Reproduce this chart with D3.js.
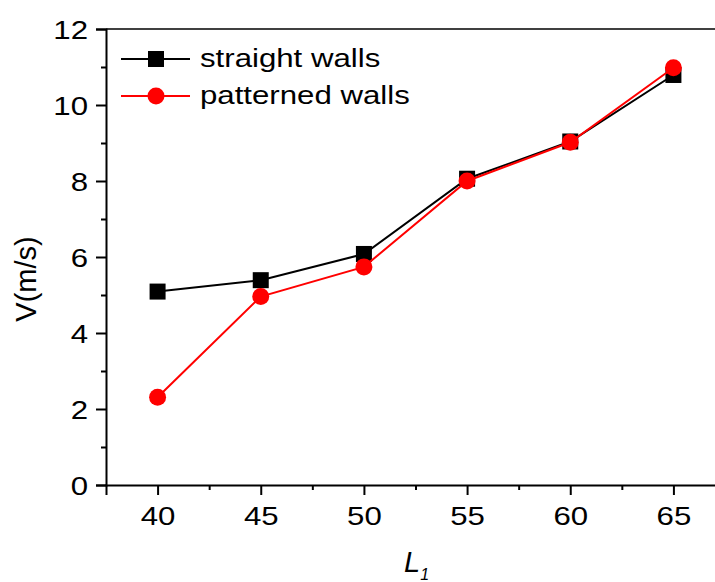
<!DOCTYPE html>
<html>
<head>
<meta charset="utf-8">
<script src="https://cdn.jsdelivr.net/npm/d3@7"></script>
<style>
  html, body { margin: 0; padding: 0; background: #fff; }
  svg { display: block; font-family: "Liberation Sans", Arial, sans-serif; }
</style>
</head>
<body>
<svg id="chart" width="715" height="582"></svg>
<script>
// L1 positions along the horizontal axis
const lengths = [40, 45, 50, 55, 60, 65];
// Velocity (m/s) for each wall type
const straightWalls = [5.09, 5.39, 6.08, 8.06, 9.04, 10.79];
const patternedWalls = [2.31, 4.96, 5.74, 8.0, 9.02, 10.98];
// Axis ticks
const xMajor = [40, 45, 50, 55, 60, 65];
const xMinor = [42.5, 47.5, 52.5, 57.5, 62.5];
const yMajor = [0, 2, 4, 6, 8, 10, 12];
const yMinor = [1, 3, 5, 7, 9, 11];
const seriesNames = ["straight walls", "patterned walls"];

const svg = d3.select("#chart");
const x = d3.scaleLinear().domain([37.5, 67.5]).range([106, 725]);
const y = d3.scaleLinear().domain([0, 12]).range([485, 29]);

const axisStroke = 2;
const labelSize = 26;
const stretch = 1.2; // the label face runs a little wider than Liberation Sans

// frame line along the top
svg.append("line")
  .attr("x1", x(37.5)).attr("x2", x(67.5))
  .attr("y1", y(12)).attr("y2", y(12))
  .attr("stroke", "#000").attr("stroke-width", 1.6);

// bottom axis: major + minor ticks
const gx = svg.append("g").attr("transform", `translate(0,${y(0)})`);
gx.call(d3.axisBottom(x).tickValues(xMajor).tickSize(10).tickFormat(d3.format("d")));
gx.append("g").call(d3.axisBottom(x).tickValues(xMinor).tickSize(5).tickFormat(""))
  .select(".domain").remove();
gx.selectAll(".tick text")
  .attr("x", 0).attr("y", 0).attr("dy", 0)
  .attr("transform", `translate(0,40) scale(${stretch},1)`);

// left axis: major + minor ticks
const gy = svg.append("g").attr("transform", `translate(${x(37.5)},0)`);
gy.call(d3.axisLeft(y).tickValues(yMajor).tickSize(10).tickFormat(d3.format("d")));
gy.append("g").call(d3.axisLeft(y).tickValues(yMinor).tickSize(5).tickFormat(""))
  .select(".domain").remove();
gy.selectAll(".tick text")
  .attr("x", 0).attr("dy", "0.35em")
  .attr("transform", `translate(-18,0) scale(${stretch},1)`);

svg.selectAll(".domain").attr("stroke", "#000").attr("stroke-width", axisStroke);
svg.selectAll(".tick line").attr("stroke", "#000").attr("stroke-width", axisStroke);
svg.selectAll(".tick text").attr("fill", "#000").attr("font-size", labelSize)
  .attr("font-family", "Liberation Sans, Arial, sans-serif");

// axis titles
svg.append("text")
  .attr("transform", "translate(36,279) rotate(-90)")
  .attr("text-anchor", "middle")
  .attr("font-size", 29).attr("fill", "#000")
  .text("V(m/s)");

const xt = svg.append("text")
  .attr("x", 404).attr("y", 572)
  .attr("font-size", 29).attr("font-style", "italic").attr("fill", "#000");
xt.append("tspan").text("L");
xt.append("tspan").attr("font-size", 16).attr("dy", 8).text("1");

const line = d3.line().x((d, i) => x(lengths[i])).y(d => y(d));

// straight walls: black line with squares
svg.append("path").datum(straightWalls)
  .attr("d", line).attr("fill", "none").attr("stroke", "#000").attr("stroke-width", 2);
svg.append("g").selectAll("rect").data(straightWalls).join("rect")
  .attr("x", (d, i) => x(lengths[i]) - 8).attr("y", d => y(d) - 8)
  .attr("width", 16).attr("height", 16).attr("fill", "#000");

// patterned walls: red line with circles
svg.append("path").datum(patternedWalls)
  .attr("d", line).attr("fill", "none").attr("stroke", "#ff0000").attr("stroke-width", 2);
svg.append("g").selectAll("circle").data(patternedWalls).join("circle")
  .attr("cx", (d, i) => x(lengths[i])).attr("cy", d => y(d))
  .attr("r", 8.5).attr("fill", "#ff0000");

// legend
const legend = svg.append("g");
const rows = [
  { name: seriesNames[0], color: "#000", shape: "square", yPos: 59 },
  { name: seriesNames[1], color: "#ff0000", shape: "circle", yPos: 96 }
];
rows.forEach(r => {
  legend.append("line")
    .attr("x1", 121).attr("x2", 190).attr("y1", r.yPos).attr("y2", r.yPos)
    .attr("stroke", r.color).attr("stroke-width", 2);
  if (r.shape === "square") {
    legend.append("rect").attr("x", 148).attr("y", r.yPos - 8)
      .attr("width", 16).attr("height", 16).attr("fill", r.color);
  } else {
    legend.append("circle").attr("cx", 156).attr("cy", r.yPos).attr("r", 8.5).attr("fill", r.color);
  }
  legend.append("text")
    .attr("transform", `translate(200,${r.yPos + 7.5}) scale(${stretch},1)`)
    .attr("font-size", labelSize).attr("fill", "#000").text(r.name);
});
</script>
</body>
</html>
